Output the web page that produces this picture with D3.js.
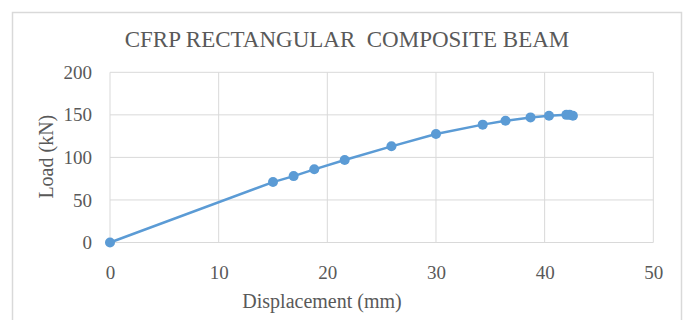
<!DOCTYPE html>
<html>
    <head>
        <meta charset="utf-8">
        <title>CFRP Rectangular Composite Beam</title>
        <script src="https://d3js.org/d3.v7.min.js"></script>
        <style>
            body { margin: 0; background: #fff; }
            svg { display: block; }
            text { font-family: "Liberation Serif", "Times New Roman", serif; fill: #595959; }
        </style>
    </head>
    <body>
        <svg></svg>
        <script>
            // 读图得到的数据
            const displacement = [0, 15, 16.9, 18.8, 21.6, 25.9, 30, 34.3, 36.4, 38.7, 40.4, 42.0, 42.3, 42.6];
            const load = [0, 71, 78, 86, 97, 113, 127.5, 138.5, 143, 147, 149, 150, 150, 149];
            const xTicks = [0, 10, 20, 30, 40, 50];
            const yTicks = [0, 50, 100, 150, 200];
            const chartTitle = 'CFRP RECTANGULAR\u00a0\u00a0COMPOSITE BEAM';
            const xTitle = 'Displacement (mm)';
            const yTitle = 'Load (kN)';

            const width = 686;
            const height = 320;
            const plot = { left: 110, right: 653.3, top: 72.3, bottom: 242.5 };

            const svg = d3.select('svg').attr('width', width).attr('height', height);

            // 外框
            svg.append('rect')
                .attr('x', 12.5).attr('y', 12.5)
                .attr('width', 669).attr('height', 330)
                .attr('fill', '#fff').attr('stroke', '#d9d9d9').attr('stroke-width', 1.5);

            const x = d3.scaleLinear().domain([0, 50]).range([plot.left, plot.right]);
            const y = d3.scaleLinear().domain([0, 200]).range([plot.bottom, plot.top]);

            // 网格线
            svg.append('g').selectAll('line').data(xTicks).enter().append('line')
                .attr('x1', d => x(d)).attr('x2', d => x(d))
                .attr('y1', plot.top).attr('y2', plot.bottom)
                .attr('stroke', '#d9d9d9').attr('stroke-width', 1);

            svg.append('g').selectAll('line').data(yTicks).enter().append('line')
                .attr('x1', plot.left).attr('x2', plot.right)
                .attr('y1', d => y(d)).attr('y2', d => y(d))
                .attr('stroke', '#d9d9d9').attr('stroke-width', 1);

            // 坐标轴 (用 d3.axis 生成刻度文字)
            const xAxis = svg.append('g')
                .attr('transform', 'translate(0,' + plot.bottom + ')')
                .call(d3.axisBottom(x).tickValues(xTicks).tickSize(0).tickPadding(23));
            xAxis.select('.domain').remove();
            xAxis.selectAll('text').attr('font-size', 19).attr('fill', '#595959')
                .attr('font-family', '"Liberation Serif", serif');

            const yAxis = svg.append('g')
                .attr('transform', 'translate(' + plot.left + ',0)')
                .call(d3.axisLeft(y).tickValues(yTicks).tickSize(0).tickPadding(18));
            yAxis.select('.domain').remove();
            yAxis.selectAll('text').attr('font-size', 19).attr('fill', '#595959')
                .attr('font-family', '"Liberation Serif", serif');

            // 标题
            svg.append('text').text(chartTitle)
                .attr('x', 347).attr('y', 47)
                .attr('text-anchor', 'middle').attr('font-size', 23);

            svg.append('text').text(xTitle)
                .attr('x', 322).attr('y', 307.5)
                .attr('text-anchor', 'middle').attr('font-size', 20);

            svg.append('text').text(yTitle)
                .attr('transform', 'translate(53,156.7) rotate(-90)')
                .attr('text-anchor', 'middle').attr('font-size', 20);

            // 数据线与点
            const points = displacement.map((d, i) => ({ x: d, y: load[i] }));

            svg.append('path').datum(points)
                .attr('fill', 'none').attr('stroke', '#5b9bd5').attr('stroke-width', 2.5)
                .attr('stroke-linejoin', 'round')
                .attr('d', d3.line().x(d => x(d.x)).y(d => y(d.y)));

            svg.append('g').selectAll('circle').data(points).enter().append('circle')
                .attr('cx', d => x(d.x)).attr('cy', d => y(d.y)).attr('r', 5)
                .attr('fill', '#5b9bd5');
        </script>
    </body>
</html>
